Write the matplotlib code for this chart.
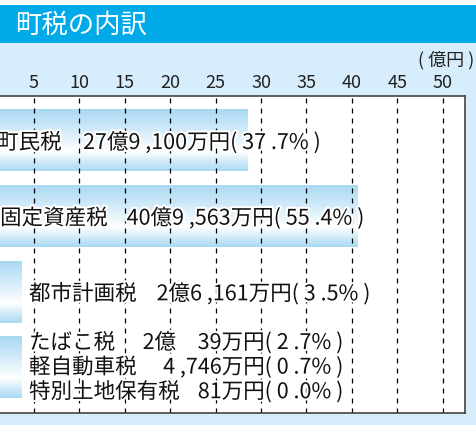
import numpy as np
import matplotlib.pyplot as plt
import matplotlib.patheffects as pe
from matplotlib.colors import LinearSegmentedColormap
from matplotlib.patches import Rectangle

plt.rcParams['font.family'] = ['Noto Sans CJK JP', 'DejaVu Sans']

# bar lengths (億円) as drawn in the picture
bar_values = [28.5, 40.6, 3.6, 3.6]
ticks = [5, 10, 15, 20, 25, 30, 35, 40, 45, 50]

names_top = ['町民税', '固定資産税', '都市計画税']
amounts_top = ['27億9 ,100万円( 37 .7% )', '40億9 ,563万円( 55 .4% )', '2億6 ,161万円( 3 .5% )']
names_small = ['たばこ税', '軽自動車税', '特別土地保有税']
amounts_small = ['2億　39万円', '4 ,746万円', '81万円']
pcts_small = ['( 2 .7% )', '( 0 .7% )', '( 0 .0% )']

W, H = 477, 438
fig = plt.figure(figsize=(W / 100, H / 100), dpi=100)
fig.patch.set_facecolor('white')

def box(x0, y0, x1, y1):
    # pixel box (top-left origin) -> figure fraction
    return [x0 / W, 1 - y1 / H, (x1 - x0) / W, (y1 - y0) / H]

# light blue panel and header band
b = box(0, 43, W, 425)
fig.patches.append(Rectangle((b[0], b[1]), b[2], b[3], transform=fig.transFigure,
                             facecolor='#d8edfb', edgecolor='none', zorder=-10))
b = box(0, 5, W, 43)
fig.patches.append(Rectangle((b[0], b[1]), b[2], b[3], transform=fig.transFigure,
                             facecolor='#00aae9', edgecolor='none', zorder=-10))
fig.text(15 / W, 1 - 25 / H, '町税の内訳', color='white', fontsize=19, va='center', ha='left')
fig.text(474 / W, 1 - 60 / H, '( 億円 )', color='#222222', fontsize=13, va='center', ha='right')

ax = fig.add_axes(box(-11.4, 96, 465, 413))
ax.set_facecolor('white')
xmax = (465 + 11.4) / 9.08

grad = LinearSegmentedColormap.from_list('g', [(0, '#a9d9f3'), (0.35, '#d4ecfa'),
                                               (0.68, '#ffffff'), (1, '#a9d9f3')])
img = np.linspace(0, 1, 100).reshape(-1, 1)
bh = 0.81
for i, v in enumerate(bar_values):
    ax.imshow(img, cmap=grad, aspect='auto', extent=(0, v, i + bh / 2, i - bh / 2),
              interpolation='bilinear', zorder=1)
ax.set_xlim(0, xmax)
ax.set_ylim(3.6, -0.59)

for t in ticks:
    ax.axvline(t, color='black', lw=0.9, ls=(0, (4, 4)), zorder=2)

ax.xaxis.tick_top()
ax.set_xticks(ticks)
ax.set_xticklabels([str(t) for t in ticks], fontsize=13, color='#222222')
ax.tick_params(axis='x', length=0, pad=3)
ax.set_yticks([])
for s in ax.spines.values():
    s.set_color('#444444')
    s.set_linewidth(1.2)
    s.set_zorder(4)

fs = 15.5
halo = [pe.withStroke(linewidth=3, foreground='white')]
name_x = [0.93, 1.26, 4.45]
amt_x = [10.4, 15.2, 18.5]
for i in range(3):
    ax.text(name_x[i], i + 0.03, names_top[i], fontsize=fs, va='center', ha='left',
            color='#111111', path_effects=halo, zorder=3)
    ax.text(amt_x[i], i + 0.03, amounts_top[i], fontsize=fs, va='center', ha='left',
            color='#111111', path_effects=halo, zorder=3)

for j in range(3):
    y = 3 + (j - 1) * 0.325
    ax.text(4.45, y, names_small[j], fontsize=fs, va='center', ha='left',
            color='#111111', path_effects=halo, zorder=3)
    ax.text(30.4, y, amounts_small[j], fontsize=fs, va='center', ha='right',
            color='#111111', path_effects=halo, zorder=3)
    ax.text(30.4, y, pcts_small[j], fontsize=fs, va='center', ha='left',
            color='#111111', path_effects=halo, zorder=3)

fig.savefig('out.png', dpi=100)
